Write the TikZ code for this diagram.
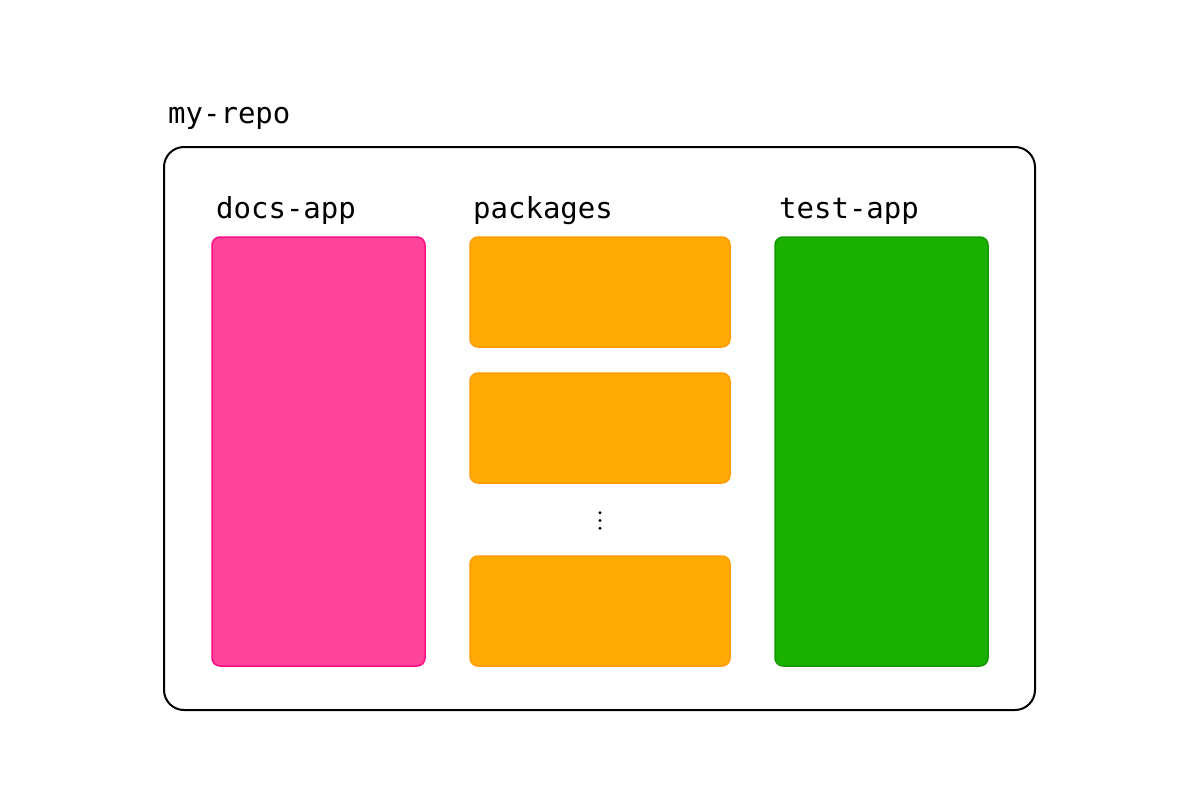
\documentclass[tikz,border=0pt]{standalone}
\usepackage{fontspec}
\newfontfamily\monofont{DejaVu Sans Mono}
\definecolor{pinkfill}{HTML}{FF4499}
\definecolor{pinkline}{HTML}{FF0D86}
\definecolor{orangefill}{HTML}{FFAA05}
\definecolor{orangeline}{HTML}{FF9A00}
\definecolor{greenfill}{HTML}{1AB000}
\definecolor{greenline}{HTML}{149A00}
\tikzset{
  lbl/.style={anchor=base west, inner sep=0pt, font=\monofont\fontsize{29}{33}\selectfont},
  blk/.style={rounded corners=8pt, line width=1.5pt},
}
\begin{document}
\begin{tikzpicture}[x=1pt,y=-1pt]
\useasboundingbox (0,0) rectangle (1200,800);
\draw[line width=2pt, rounded corners=20pt] (164,147) rectangle (1035,710);
\node[lbl] (repo) at (168,123) {my-repo};
\node[lbl] (docsl) at (216,218) {docs-app};
\node[lbl] (pkgl) at (473,218) {packages};
\node[lbl] (testl) at (779,218) {test-app};
\draw[blk, fill=pinkfill, draw=pinkline] (212,237) rectangle (425,666);
\draw[blk, fill=orangefill, draw=orangeline] (470,237) rectangle (730,347);
\draw[blk, fill=orangefill, draw=orangeline] (470,373) rectangle (730,483);
\draw[blk, fill=orangefill, draw=orangeline] (470,556) rectangle (730,666);
\draw[blk, fill=greenfill, draw=greenline] (775,237) rectangle (988,666);
\fill (600,512.7) circle (1.6pt);
\fill (600,520.5) circle (1.6pt);
\fill (600,528.3) circle (1.6pt);
\end{tikzpicture}
\end{document}
